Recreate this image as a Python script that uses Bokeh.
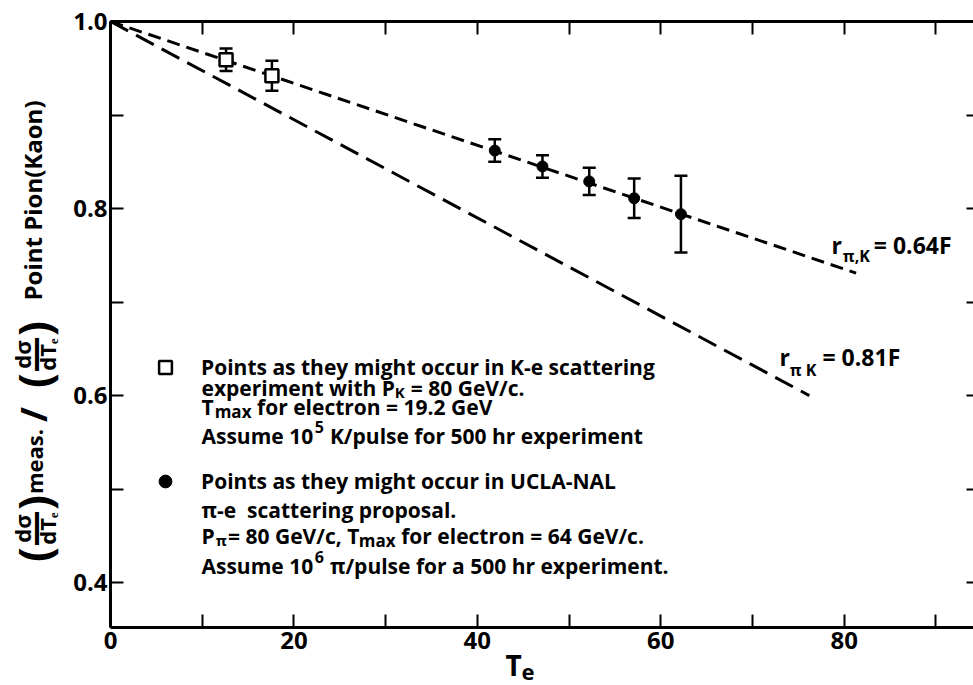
import math
from bokeh.plotting import figure
from bokeh.models import (Range1d, LinearAxis, FixedTicker, Whisker, TeeHead,
                          ColumnDataSource, Label, Legend, LegendItem,
                          PrintfTickFormatter)
from bokeh.core.properties import value
from bokeh.embed import file_html
from bokeh.resources import INLINE

# ---------------- data ----------------
kaon_te = [12.6, 17.6]
kaon_ratio = [0.959, 0.942]
kaon_err = [0.012, 0.016]

pion_te = [41.9, 47.1, 52.2, 57.1, 62.2]
pion_ratio = [0.862, 0.845, 0.829, 0.811, 0.794]
pion_err = [0.012, 0.012, 0.0145, 0.021, 0.041]

fit064_te = [0.0, 81.3]
fit064_ratio = [1.0, 0.731]
fit081_te = [0.0, 76.2]
fit081_ratio = [1.0, 0.600]

x_labeled_ticks = [0, 20, 40, 60, 80]
x_plain_ticks = [10, 30, 50, 70, 90]
y_labeled_ticks = [0.4, 0.6, 0.8, 1.0]
y_plain_ticks = [0.5, 0.7, 0.9]

# ---------------- layout ----------------
FONT = "Open Sans"
W_PX, H_PX = 973, 685
AX_LEFT, AX_TOP, AX_W, AX_H = 110, 21, 863, 606     # plotting box in pixels
X_MIN, X_MAX = 0.0, 94.1
Y_MIN, Y_MAX = 0.352, 1.0
SX = AX_W / (X_MAX - X_MIN)
SY = AX_H / (Y_MAX - Y_MIN)


def X(px):
    return X_MIN + (px - AX_LEFT) / SX


def Y(py):
    return Y_MAX - (py - AX_TOP) / SY


p = figure(width=W_PX, height=H_PX,
           x_range=Range1d(X(0), X(W_PX)), y_range=Range1d(Y(H_PX), Y(0)),
           output_backend="svg", toolbar_location=None,
           x_axis_location=None, y_axis_location=None,
           min_border=0, min_border_left=0, min_border_right=0,
           min_border_top=0, min_border_bottom=0,
           outline_line_color=None,
           background_fill_color="white", border_fill_color="white")
p.grid.visible = False
p.title.visible = False


def make_axis(major, minor, tick_in, loc, bounds, labels=True, line=True,
              standoff=4, fmt=None):
    ax = LinearAxis(
        ticker=FixedTicker(ticks=major, minor_ticks=minor),
        fixed_location=loc, bounds=bounds,
        axis_line_width=3, axis_line_color="black" if line else None,
        major_tick_in=tick_in, major_tick_out=0,
        minor_tick_in=tick_in, minor_tick_out=0,
        major_tick_line_width=2, minor_tick_line_width=2,
        major_tick_line_color="black", minor_tick_line_color="black",
        major_label_text_font=FONT, major_label_text_font_style="bold",
        major_label_text_font_size="24px",
        major_label_text_color="black" if labels else None,
        major_label_standoff=standoff)
    if fmt is not None:
        ax.formatter = fmt
    return ax


p.add_layout(make_axis(x_labeled_ticks, x_plain_ticks, 13, Y_MIN, (X_MIN, 95.5),
                       standoff=4), "below")
p.add_layout(make_axis(y_labeled_ticks, y_plain_ticks, 13, X_MIN, (Y_MIN, Y_MAX),
                       standoff=3, fmt=PrintfTickFormatter(format="%.1f")), "left")
p.add_layout(make_axis(x_labeled_ticks, x_plain_ticks, 13, Y_MAX, (X_MIN, 95.5),
                       labels=False), "above")
p.add_layout(make_axis(y_labeled_ticks, y_plain_ticks, 13, X(979), (Y_MIN, Y_MAX),
                       labels=False, line=False), "right")

# ---------------- curves ----------------
p.line(fit064_te, fit064_ratio, line_width=3, line_color="black", line_dash="13 7")
p.line(fit081_te, fit081_ratio, line_width=3, line_color="black", line_dash="20 9")

src_k = ColumnDataSource(dict(te=kaon_te, r=kaon_ratio,
                              lo=[r - e for r, e in zip(kaon_ratio, kaon_err)],
                              hi=[r + e for r, e in zip(kaon_ratio, kaon_err)]))
src_pi = ColumnDataSource(dict(te=pion_te, r=pion_ratio,
                               lo=[r - e for r, e in zip(pion_ratio, pion_err)],
                               hi=[r + e for r, e in zip(pion_ratio, pion_err)]))

for src in (src_k, src_pi):
    p.add_layout(Whisker(source=src, base="te", upper="hi", lower="lo",
                         line_width=2.5, line_color="black",
                         upper_head=TeeHead(size=13, line_width=2.5, line_color="black"),
                         lower_head=TeeHead(size=13, line_width=2.5, line_color="black")))

k_r = p.scatter("te", "r", source=src_k, marker="square", size=13,
                fill_color="white", line_color="black", line_width=2.5)
pi_r = p.scatter("te", "r", source=src_pi, marker="circle", size=11,
                 fill_color="black", line_color="black", line_width=1)

# ---------------- texts ----------------
W = {' ': 0.26, '\u00a0': 0.26, '.': 0.28, ',': 0.28, '/': 0.37, '-': 0.32,
     '=': 0.57, '(': 0.33, ')': 0.33,
     'a': 0.60, 'b': 0.64, 'c': 0.51, 'd': 0.64, 'e': 0.59, 'f': 0.39, 'g': 0.57,
     'h': 0.65, 'i': 0.30, 'k': 0.61, 'l': 0.30, 'm': 0.97, 'n': 0.65, 'o': 0.62,
     'p': 0.64, 'r': 0.45, 's': 0.50, 't': 0.43, 'u': 0.65, 'v': 0.56, 'w': 0.85,
     'x': 0.57, 'y': 0.56, 'A': 0.69, 'C': 0.63, 'E': 0.55, 'F': 0.53, 'G': 0.72,
     'K': 0.66, 'L': 0.54, 'N': 0.79, 'P': 0.63, 'T': 0.58, 'U': 0.73, 'V': 0.64,
     'π': 0.62}

TXT = 21


def text_width(t, size):
    return sum(W.get(c, 0.57) for c in t) * size


def put(text, px, py, size, align="left", baseline="alphabetic", angle=0.0):
    p.add_layout(Label(x=X(px), y=Y(py), text=text, text_font=FONT,
                       text_font_size=f"{size}px", text_font_style="bold",
                       text_color="black", text_align=align,
                       text_baseline=baseline, angle=angle))


def chain(pieces, px, py):
    x = px
    for text, size, dy, gap in pieces:
        x += gap
        put(text, x, py + dy, size)
        x += text_width(text, size)


def legend_for(renderer, text, py):
    leg = Legend(items=[LegendItem(label=value(text), renderers=[renderer])],
                 location=(149, H_PX - py - 16),
                 orientation="vertical", glyph_width=32, glyph_height=32,
                 label_height=32, label_width=10, label_standoff=20,
                 padding=0, margin=0, spacing=0, border_line_color=None,
                 background_fill_alpha=0, label_text_font=FONT,
                 label_text_font_size=f"{TXT}px", label_text_font_style="bold",
                 label_text_color="black")
    p.add_layout(leg)


legend_for(k_r, "Points as they might occur in K-e scattering", 367)
chain([("experiment with P", TXT, 0, 0), ("K", 15, 4, 1), ("= 80 GeV/c.", TXT, 0, 6)], 201, 387)
chain([("T", TXT, 0, 0), ("max", 17, 5, 1), ("for electron = 19.2 GeV", TXT, 0, 6)], 201, 406)
chain([("Assume 10", TXT, 0, 0), ("5", 16, -9, 2), ("K/pulse for 500 hr experiment", TXT, 0, 6)], 201, 435)

legend_for(pi_r, "Points as they might occur in UCLA-NAL", 481)
chain([("π-e\u00a0\u00a0scattering proposal.", TXT, 0, 0)], 201, 509)
chain([("P", TXT, 0, 0), ("π", 15, 4, 1), ("= 80 GeV/c, T", TXT, 0, 3), ("max", 17, 5, 1),
       ("for electron = 64 GeV/c.", TXT, 0, 6)], 201, 535)
chain([("Assume 10", TXT, 0, 0), ("6", 16, -9, 2), ("π/pulse for a 500 hr experiment.", TXT, 0, 6)], 201, 565)

# curve labels
chain([("r", 23, 0, 0), ("π,K", 16, 11, 1), ("= 0.64F", 23, 0, 6)], 831, 244)
chain([("r", 23, 0, 0), ("π\u00a0K", 16, 13, 0), ("= 0.81F", 23, 0, 8)], 779, 356)

# x axis title
put("T", 505, 664, 28)
put("e", 521, 672, 22)

# y axis title (rotated)
A = math.pi / 2


def rput(text, px, py, size):
    put(text, px, py, size, align="center", baseline="middle", angle=A)


rput("Point Pion(Kaon)", 32, 200, 24)
for cy in (354, 528):
    rput("(", 33, cy + 26, 44)
    rput(")", 33, cy - 26, 44)
    rput("dσ", 21, cy, 22)
    rput("—", 33, cy, 36)
    rput("dTₑ", 46, cy, 22)
rput("meas.", 33, 461, 22)
rput("/", 33, 414, 36)

open("out.html", "w").write(file_html(p, INLINE, "chart"))
